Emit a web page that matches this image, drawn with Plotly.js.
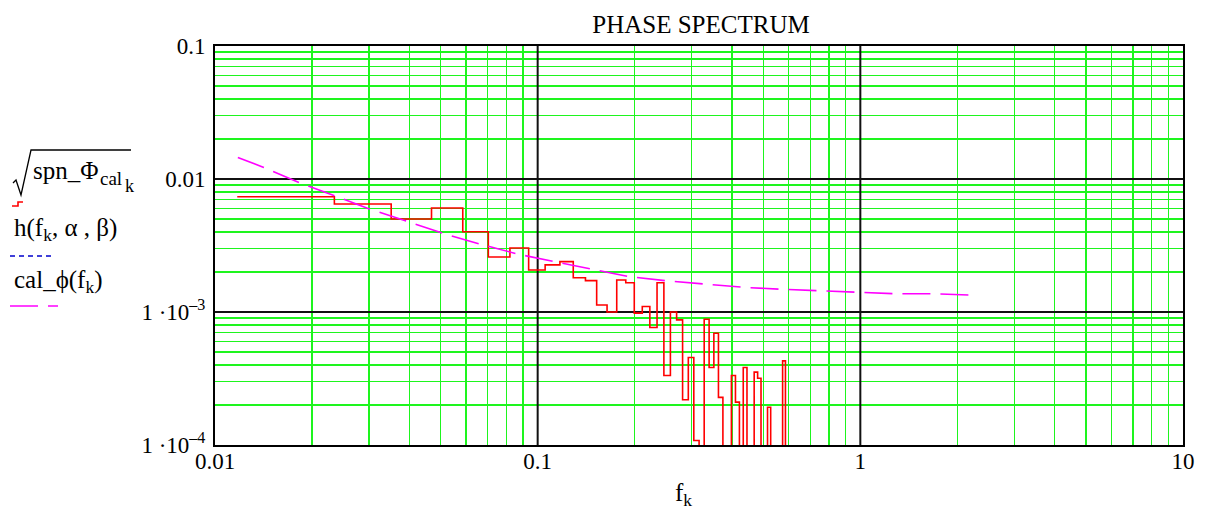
<!DOCTYPE html>
<html>
<head>
<meta charset="utf-8">
<script src="https://cdn.plot.ly/plotly-3.0.1.min.js"></script>
<style>
  html, body { margin: 0; padding: 0; background: #fff; }
  #chart { width: 1215px; height: 516px; }
  #chart .gridlayer path { shape-rendering: geometricPrecision !important; }
</style>
</head>
<body>
<div id="chart"></div>
<script>
// Frequency grid f_k (Hz), k = 1..50
const freqK = [
  0.01172, 0.02344, 0.03516, 0.04688, 0.0586, 0.07032, 0.08204, 0.09376, 0.10548, 0.1172,
  0.12892, 0.14064, 0.15236, 0.16408, 0.1758, 0.18752, 0.19924, 0.21096, 0.22268, 0.2344,
  0.24612, 0.25784, 0.26956, 0.28128, 0.293, 0.30472, 0.31644, 0.32816, 0.33988, 0.3516,
  0.36332, 0.37504, 0.38676, 0.39848, 0.4102, 0.42192, 0.43364, 0.44536, 0.45708, 0.4688,
  0.48052, 0.49224, 0.50396, 0.51568, 0.5274, 0.53912, 0.55084, 0.56256, 0.57428, 0.586
];

// sqrt(spn_Phi_cal_k): measured phase spectrum, one value per f_k
const spnPhiCal = [
  0.00735, 0.00648, 0.00500, 0.00605, 0.00401, 0.00259, 0.00303, 0.00207, 0.00226, 0.00239,
  0.00181, 0.00172, 0.00113, 0.00100, 0.00174, 0.00166, 0.00098, 0.00110, 0.000764, 0.00166,
  0.000333, 0.00100, 0.000872, 0.000219, 0.000455, 0.000108, 0.00006, 0.000883, 0.000383, 0.000693,
  0.000228, 0.00005, 0.00007, 0.000333, 0.000210, 0.00006, 0.000383, 0.00005, 0.00007, 0.000353,
  0.000318, 0.00006, 0.00005, 0.000192, 0.00006, 0.00004, 0.00007, 0.00005, 0.000429, 0.00006
];

// cal_phi(f): calibration curve
const calFreq = [
  0.01177, 0.01417, 0.0182, 0.02361, 0.03038, 0.03967, 0.05093, 0.06656, 0.08708, 0.1131,
  0.1499, 0.1934, 0.2543, 0.3346, 0.4399, 0.576, 0.7609, 0.9957, 1.301, 1.711, 2.223
];
const calPhi = [
  0.01453, 0.01222, 0.00943, 0.00744, 0.00591, 0.00477, 0.0039, 0.00323, 0.00272, 0.00239,
  0.00207, 0.00184, 0.00171, 0.00162, 0.00153, 0.00148, 0.00144, 0.00141, 0.00137, 0.00137, 0.00134
];

// Labelled decade ticks
const xTickVals = [0.01, 0.1, 1, 10];
const xTickText = ['0.01', '0.1', '1', '10'];
const yTickVals = [0.0001, 0.001, 0.01, 0.1];
const yTickText = ['1 ·10<sup>–4</sup>', '1 ·10<sup>–3</sup>', '0.01', '0.1'];

// Minor log grid: digits 2..9 inside each decade of an axis range
function logMinor(lo, hi) {
  const v = [];
  for (let e = lo; e < hi; e++) {
    for (let d = 2; d <= 9; d++) v.push(d * Math.pow(10, e));
  }
  return v;
}

const W = 1215, H = 516;
const M = { l: 215, r: 32, t: 46, b: 71 };
const PW = W - M.l - M.r, PH = H - M.t - M.b;
// page pixel -> paper fraction (for the left-hand trace key)
const px = x => (x - M.l) / PW;
const py = y => (H - M.b - y) / PH;
const path = pts => pts.map((p, i) => (i ? 'L' : 'M') + px(p[0]).toFixed(5) + ',' + py(p[1]).toFixed(5)).join(' ');

const serif = 'Liberation Serif';
const RED = '#ff0000', MAG = '#ff00ff', BLUE = '#0000cc', GREEN = '#1ef51e', MAJOR = '#111111';

const traces = [
  {
    x: freqK, y: spnPhiCal, type: 'scatter', mode: 'lines',
    line: { color: RED, width: 1.6, shape: 'hv' }, hoverinfo: 'skip'
  },
  {
    x: calFreq, y: calPhi, type: 'scatter', mode: 'lines',
    line: { color: MAG, width: 1.6, dash: '28px,10px' }, hoverinfo: 'skip'
  }
];

const axisCommon = {
  type: 'log',
  showline: true, mirror: true, linecolor: '#000', linewidth: 2,
  showgrid: true, gridcolor: MAJOR, gridwidth: 2,
  zeroline: false, ticks: '',
  tickmode: 'array',
  tickfont: { family: serif, size: 23, color: '#000' }
};
const minorGrid = vals => ({ tickmode: 'array', tickvals: vals, showgrid: true, gridcolor: GREEN, gridwidth: 1.3, ticks: '' });

const keyFont = { family: serif, size: 25, color: '#000' };
const ann = (text, x, y, size, anchor) => ({
  text, xref: 'paper', yref: 'paper', x: px(x), y: py(y),
  xanchor: anchor || 'left', yanchor: 'middle', showarrow: false,
  font: Object.assign({}, keyFont, { size: size || 25 })
});

const layout = {
  width: W, height: H,
  margin: M,
  paper_bgcolor: '#fff', plot_bgcolor: '#fff',
  showlegend: false,
  title: {
    text: 'PHASE SPECTRUM',
    font: { family: serif, size: 25, color: '#000' },
    x: px(701), xref: 'paper', xanchor: 'center',
    y: 1 - 24 / H, yref: 'container', yanchor: 'middle'
  },
  xaxis: Object.assign({}, axisCommon, {
    range: [-2, 1], tickvals: xTickVals, ticktext: xTickText, ticklabelstandoff: -6,
    minor: minorGrid(logMinor(-2, 1))
  }),
  yaxis: Object.assign({}, axisCommon, {
    range: [-4, -1], tickvals: yTickVals, ticktext: yTickText, ticklabelstandoff: 3,
    minor: minorGrid(logMinor(-4, -1))
  }),
  annotations: [
    ann('spn_Φ', 31, 170),
    ann('cal', 98, 178, 19),
    ann('k', 123, 186, 18),
    ann('h(f<sub>k</sub>, α , β)', 12, 229),
    ann('cal_ϕ(f<sub>k</sub>)', 12, 281),
    ann('f<sub>k</sub>', 673, 494)
  ],
  shapes: [
    // radical sign over spn_Phi_cal_k
    { type: 'path', xref: 'paper', yref: 'paper',
      path: path([[13, 183], [16, 180], [21, 195], [31, 150], [131, 150]]),
      line: { color: '#000', width: 1.3 } },
    // trace key samples
    { type: 'path', xref: 'paper', yref: 'paper',
      path: path([[12, 206], [18, 206], [18, 202], [23, 202]]),
      line: { color: RED, width: 1.6 } },
    { type: 'line', xref: 'paper', yref: 'paper',
      x0: px(10), x1: px(54), y0: py(256), y1: py(256),
      line: { color: BLUE, width: 1.5, dash: '5px,4px' } },
    { type: 'line', xref: 'paper', yref: 'paper',
      x0: px(10), x1: px(58), y0: py(306), y1: py(306),
      line: { color: MAG, width: 1.6, dash: '28px,10px' } }
  ]
};

Plotly.newPlot('chart', traces, layout, { displayModeBar: false, staticPlot: true });
</script>
</body>
</html>
